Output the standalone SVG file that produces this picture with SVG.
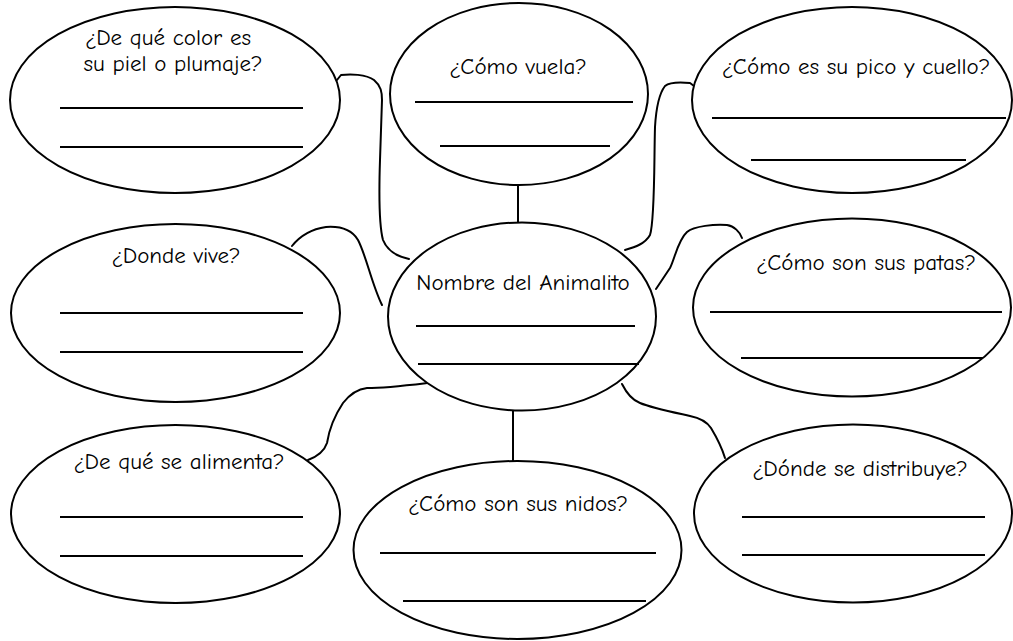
<svg xmlns="http://www.w3.org/2000/svg" width="1013" height="641" viewBox="0 0 1013 641">
<style>
.bub{fill:#fff;stroke:#000;stroke-width:2}
.ln{stroke:#000;stroke-width:2}
.con{fill:none;stroke:#000;stroke-width:2;stroke-linecap:round;stroke-linejoin:round}
text{font-family:"Comic Neue","Liberation Sans",sans-serif;font-size:23px;fill:#000;text-anchor:middle}
</style>
<rect width="1013" height="641" fill="#fff"/>
<g id="connectors">
<path class="con" d="M337,80 L341,75 C350,74 366,74 374,80 C381,86 382,92 382,100 L380,160 C379,190 379,225 383,240 C387,250 395,256 409,259"/>
<path class="con" d="M292,246 C300,236 312,229 326,227 C340,226 352,230 358,240 C366,255 372,285 382,305"/>
<path class="con" d="M625,250 C635,247 645,244 650,235 C655,220 654,160 655,127 C656,110 658,95 665,86 C670,82 680,82 690,83 L694,86"/>
<path class="con" d="M656,289 L670,268 C675,258 678,240 687,232 C694,226 715,224 727,225 C734,226 740,232 742,238"/>
<path class="con" d="M427,383 C410,385 385,388 367,388 C358,389 350,394 343,403 C335,415 329,430 327,443 C324,452 316,457 308,460"/>
<path class="con" d="M622,384 C626,392 632,400 640,403 C652,408 672,412 690,416 C700,418 707,422 711,428 C717,438 722,448 725,458"/>
<line class="ln" x1="518" y1="185" x2="518" y2="223"/>
<line class="ln" x1="513" y1="410" x2="513" y2="461"/>
</g>
<g id="n-color">
<ellipse class="bub" cx="175" cy="100" rx="165" ry="93"/>
<text x="168" y="45">¿De qué color es</text>
<text x="173" y="71">su piel o plumaje?</text>
<line class="ln" x1="60" y1="108" x2="303" y2="108"/>
<line class="ln" x1="60" y1="147" x2="303" y2="147"/>
</g>
<g id="n-vuela">
<ellipse class="bub" cx="519" cy="94" rx="129" ry="91"/>
<text x="518" y="74">¿Cómo vuela?</text>
<line class="ln" x1="415" y1="102" x2="633" y2="102"/>
<line class="ln" x1="440" y1="146" x2="610" y2="146"/>
</g>
<g id="n-pico">
<ellipse class="bub" cx="852" cy="100" rx="160" ry="93"/>
<text x="856" y="74">¿Cómo es su pico y cuello?</text>
<line class="ln" x1="712" y1="118" x2="1006" y2="118"/>
<line class="ln" x1="751" y1="160" x2="966" y2="160"/>
</g>
<g id="n-vive">
<ellipse class="bub" cx="175.5" cy="313" rx="164.5" ry="89"/>
<text x="176" y="263">¿Donde vive?</text>
<line class="ln" x1="60" y1="313" x2="303" y2="313"/>
<line class="ln" x1="60" y1="352" x2="303" y2="352"/>
</g>
<g id="n-nombre">
<ellipse class="bub" cx="522" cy="316.5" rx="134" ry="94"/>
<text x="523" y="290">Nombre del Animalito</text>
<line class="ln" x1="416" y1="326" x2="635" y2="326"/>
<line class="ln" x1="418" y1="364" x2="639" y2="364"/>
</g>
<g id="n-patas">
<ellipse class="bub" cx="852" cy="307.5" rx="159" ry="89"/>
<text x="866" y="270">¿Cómo son sus patas?</text>
<line class="ln" x1="710" y1="312" x2="1002" y2="312"/>
<line class="ln" x1="741" y1="358" x2="983" y2="358"/>
</g>
<g id="n-alimenta">
<ellipse class="bub" cx="175.5" cy="514" rx="164.5" ry="89"/>
<text x="179" y="469">¿De qué se alimenta?</text>
<line class="ln" x1="60" y1="517" x2="303" y2="517"/>
<line class="ln" x1="60" y1="556" x2="303" y2="556"/>
</g>
<g id="n-nidos">
<ellipse class="bub" cx="517.5" cy="550" rx="164" ry="89"/>
<text x="518" y="511">¿Cómo son sus nidos?</text>
<line class="ln" x1="380" y1="553" x2="656" y2="553"/>
<line class="ln" x1="403" y1="601" x2="646" y2="601"/>
</g>
<g id="n-distribuye">
<ellipse class="bub" cx="853" cy="513.5" rx="159" ry="89"/>
<text x="860" y="476">¿Dónde se distribuye?</text>
<line class="ln" x1="742" y1="517" x2="985" y2="517"/>
<line class="ln" x1="742" y1="555" x2="985" y2="555"/>
</g>
</svg>
